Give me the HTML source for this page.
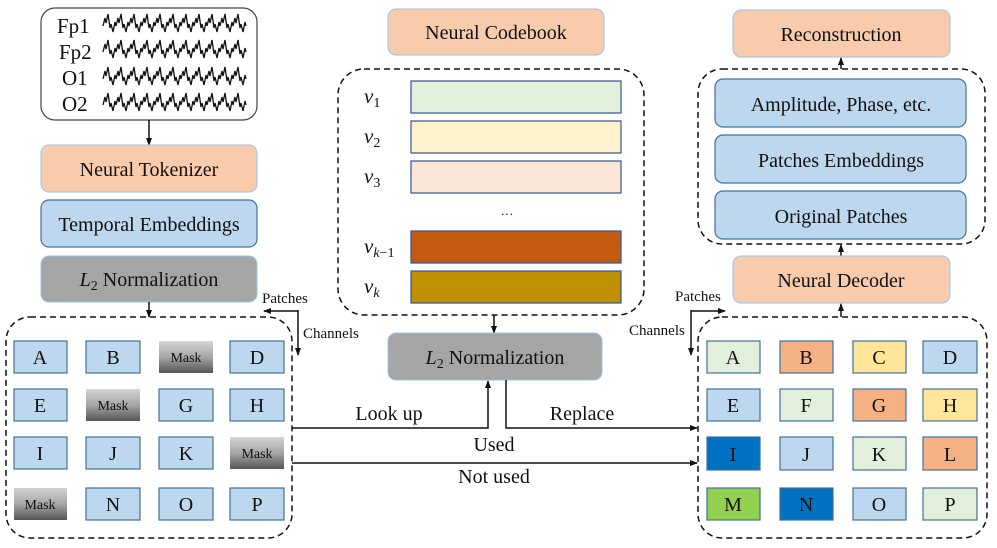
<!DOCTYPE html>
<html><head><meta charset="utf-8"><style>
html,body{margin:0;padding:0;background:#fff;}
svg{display:block;}
text{font-family:"Liberation Serif",serif;fill:#111;}
</style></head><body>
<svg width="997" height="548" viewBox="0 0 997 548" xmlns="http://www.w3.org/2000/svg">
<defs>
<marker id="ah" markerWidth="8" markerHeight="8" refX="7" refY="4" orient="auto" markerUnits="userSpaceOnUse"><path d="M0,1 L8,4 L0,7 z" fill="#111"/></marker>
<linearGradient id="mg" x1="0" y1="0" x2="0" y2="1"><stop offset="0" stop-color="#d4d4d4"/><stop offset="0.5" stop-color="#a6a6a6"/><stop offset="1" stop-color="#555"/></linearGradient>
</defs>

<!-- EEG box -->
<rect x="41" y="8" width="216" height="112" rx="14" fill="#fff" stroke="#444" stroke-width="1.2"/>
<g font-size="21"><text x="57" y="33">Fp1</text><text x="59" y="59">Fp2</text><text x="62" y="85">O1</text><text x="62" y="111">O2</text></g>
<g fill="none" stroke="#111" stroke-width="1.3">
<path id="w1" d="M103,26 l2,-8 l1,5 l2,-9 l2,14 l1,-4 l2,8 l2,-10 l1,4 l2,-8 l1,5 l2,-9 l2,14 l1,-4 l2,8 l2,-10 l1,4 l2,-8 l1,5 l2,-9 l2,14 l1,-4 l2,8 l2,-10 l1,4 l2,-8 l1,5 l2,-9 l2,14 l1,-4 l2,8 l2,-10 l1,4 l2,-8 l1,5 l2,-9 l2,14 l1,-4 l2,8 l2,-10 l1,4 l2,-8 l1,5 l2,-9 l2,14 l1,-4 l2,8 l2,-10 l1,4 l2,-8 l1,5 l2,-9 l2,14 l1,-4 l2,8 l2,-10 l1,4 l2,-8 l1,5 l2,-9 l2,14 l1,-4 l2,8 l2,-10 l1,4 l2,-8 l1,5 l2,-9 l2,14 l1,-4 l2,8 l2,-10 l1,4 l2,-8 l1,5 l2,-9 l2,14 l1,-4 l2,8 l2,-10 l1,4 l2,-8 l1,5 l2,-9 l2,14 l1,-4 l2,8 l2,-10 l1,4"/>
<use href="#w1" y="26"/><use href="#w1" y="53"/><use href="#w1" y="79"/>
</g>
<line x1="149" y1="120" x2="149" y2="145" stroke="#111" stroke-width="1.5" marker-end="url(#ah)"/>

<rect x="41" y="145" width="216" height="47" rx="8" fill="#f8cbad" stroke="#9dc3e6" stroke-width="1"/>
<text x="149" y="176" font-size="20" text-anchor="middle">Neural Tokenizer</text>
<rect x="41" y="200" width="216" height="47" rx="8" fill="#bdd7ee" stroke="#41719c" stroke-width="1.2"/>
<text x="149" y="231" font-size="20" text-anchor="middle">Temporal Embeddings</text>
<rect x="41" y="256" width="216" height="46" rx="8" fill="#a5a5a5" stroke="#9dc3e6" stroke-width="1"/>
<text x="149" y="286" font-size="20" text-anchor="middle"><tspan font-style="italic">L</tspan><tspan font-size="14" dy="4">2</tspan><tspan dy="-4"> Normalization</tspan></text>
<line x1="149" y1="302" x2="149" y2="317" stroke="#111" stroke-width="1.5" marker-end="url(#ah)"/>

<!-- Left patches/channels -->
<text x="262" y="303" font-size="15">Patches</text>
<text x="303" y="338" font-size="15">Channels</text>
<line x1="298" y1="311" x2="264" y2="311" stroke="#111" stroke-width="1.5" marker-end="url(#ah)"/>
<line x1="298" y1="310" x2="298" y2="355" stroke="#111" stroke-width="1.5" marker-end="url(#ah)"/>

<!-- Left dashed box -->
<rect x="6" y="317" width="286" height="221" rx="24" fill="none" stroke="#111" stroke-width="1.5" stroke-dasharray="6,4"/>
<g stroke="#41719c" stroke-width="1.2" fill="#bdd7ee">
<rect x="14" y="341" width="53" height="32"/><rect x="86" y="341" width="54" height="32"/><rect x="159" y="341" width="54" height="32" fill="url(#mg)" stroke="none"/><rect x="230" y="341" width="54" height="32"/>
<rect x="14" y="389" width="53" height="32"/><rect x="86" y="389" width="54" height="32" fill="url(#mg)" stroke="none"/><rect x="159" y="389" width="54" height="32"/><rect x="230" y="389" width="54" height="32"/>
<rect x="14" y="437" width="53" height="32"/><rect x="86" y="437" width="54" height="32"/><rect x="159" y="437" width="54" height="32"/><rect x="230" y="437" width="54" height="32" fill="url(#mg)" stroke="none"/>
<rect x="14" y="488" width="53" height="32" fill="url(#mg)" stroke="none"/><rect x="86" y="488" width="54" height="32"/><rect x="159" y="488" width="54" height="32"/><rect x="230" y="488" width="54" height="32"/>
</g>
<g font-size="20" text-anchor="middle">
<text x="40" y="364">A</text><text x="113" y="364">B</text><text x="186" y="362" font-size="14">Mask</text><text x="257" y="364">D</text>
<text x="40" y="412">E</text><text x="113" y="410" font-size="14">Mask</text><text x="186" y="412">G</text><text x="257" y="412">H</text>
<text x="40" y="460">I</text><text x="113" y="460">J</text><text x="186" y="460">K</text><text x="257" y="458" font-size="14">Mask</text>
<text x="40" y="509" font-size="14">Mask</text><text x="113" y="511">N</text><text x="186" y="511">O</text><text x="257" y="511">P</text>
</g>

<!-- Codebook -->
<rect x="388" y="9" width="216" height="46" rx="8" fill="#f8cbad" stroke="#9dc3e6" stroke-width="1"/>
<text x="496" y="39" font-size="20" text-anchor="middle">Neural Codebook</text>
<rect x="338" y="69" width="306" height="246" rx="26" fill="none" stroke="#111" stroke-width="1.5" stroke-dasharray="6,4"/>
<g stroke="#2f5597" stroke-width="1.2">
<rect x="411" y="81" width="210" height="32" fill="#e2efda"/>
<rect x="411" y="121" width="210" height="32" fill="#fff2cc"/>
<rect x="411" y="161" width="210" height="32" fill="#fbe5d6"/>
<rect x="411" y="231" width="210" height="32" fill="#c55a11"/>
<rect x="411" y="271" width="210" height="32" fill="#bf9000"/>
</g>
<g font-size="21" font-style="italic">
<text x="364" y="103">v<tspan font-size="14" dy="4" font-style="normal">1</tspan></text>
<text x="364" y="143">v<tspan font-size="14" dy="4" font-style="normal">2</tspan></text>
<text x="364" y="183">v<tspan font-size="14" dy="4" font-style="normal">3</tspan></text>
<text x="364" y="253">v<tspan font-size="14" dy="4">k</tspan><tspan font-size="14" font-style="normal">−1</tspan></text>
<text x="364" y="293">v<tspan font-size="14" dy="4">k</tspan></text>
</g>
<text x="507" y="215" font-size="13" text-anchor="middle">…</text>
<line x1="494" y1="315" x2="494" y2="333" stroke="#111" stroke-width="1.5" marker-end="url(#ah)"/>

<rect x="388" y="333" width="214" height="47" rx="8" fill="#a5a5a5" stroke="#9dc3e6" stroke-width="1"/>
<text x="495" y="364" font-size="20" text-anchor="middle"><tspan font-style="italic">L</tspan><tspan font-size="14" dy="4">2</tspan><tspan dy="-4"> Normalization</tspan></text>

<!-- connectors -->
<polyline points="292,428 488,428 488,381" fill="none" stroke="#111" stroke-width="1.5" marker-end="url(#ah)"/>
<polyline points="506,380 506,428 697,428" fill="none" stroke="#111" stroke-width="1.5" marker-end="url(#ah)"/>
<line x1="292" y1="463" x2="697" y2="463" stroke="#111" stroke-width="1.5" marker-end="url(#ah)"/>
<g font-size="20" text-anchor="middle">
<text x="389" y="420">Look up</text><text x="582" y="420">Replace</text>
<text x="494" y="451">Used</text><text x="494" y="483">Not used</text>
</g>

<!-- Right top -->
<rect x="733" y="10" width="217" height="47" rx="8" fill="#f8cbad" stroke="#9dc3e6" stroke-width="1"/>
<text x="841" y="41" font-size="20" text-anchor="middle">Reconstruction</text>
<line x1="841" y1="69" x2="841" y2="58" stroke="#111" stroke-width="1.5" marker-end="url(#ah)"/>
<rect x="698" y="69" width="287" height="175" rx="24" fill="none" stroke="#111" stroke-width="1.5" stroke-dasharray="6,4"/>
<g fill="#bdd7ee" stroke="#41719c" stroke-width="1.2">
<rect x="715" y="79" width="251" height="48" rx="8"/>
<rect x="715" y="135" width="251" height="48" rx="8"/>
<rect x="715" y="191" width="251" height="48" rx="8"/>
</g>
<g font-size="20" text-anchor="middle">
<text x="841" y="111">Amplitude, Phase, etc.</text>
<text x="841" y="167">Patches Embeddings</text>
<text x="841" y="223">Original Patches</text>
</g>
<line x1="841" y1="256" x2="841" y2="245" stroke="#111" stroke-width="1.5" marker-end="url(#ah)"/>
<rect x="733" y="256" width="217" height="47" rx="8" fill="#f8cbad" stroke="#9dc3e6" stroke-width="1"/>
<text x="841" y="287" font-size="20" text-anchor="middle">Neural Decoder</text>
<line x1="841" y1="317" x2="841" y2="304" stroke="#111" stroke-width="1.5" marker-end="url(#ah)"/>

<text x="675" y="301" font-size="15">Patches</text>
<text x="629" y="335" font-size="15">Channels</text>
<line x1="691" y1="311" x2="725" y2="311" stroke="#111" stroke-width="1.5" marker-end="url(#ah)"/>
<line x1="691" y1="310" x2="691" y2="355" stroke="#111" stroke-width="1.5" marker-end="url(#ah)"/>

<rect x="698" y="317" width="289" height="221" rx="24" fill="none" stroke="#111" stroke-width="1.5" stroke-dasharray="6,4"/>
<g stroke="#41719c" stroke-width="1.2">
<rect x="707" y="341" width="53" height="32" fill="#e2efda"/><rect x="780" y="341" width="53" height="32" fill="#f4b183"/><rect x="853" y="341" width="53" height="32" fill="#ffe699"/><rect x="923" y="341" width="54" height="32" fill="#bdd7ee"/>
<rect x="707" y="389" width="53" height="32" fill="#bdd7ee"/><rect x="780" y="389" width="53" height="32" fill="#e2efda"/><rect x="853" y="389" width="53" height="32" fill="#f4b183"/><rect x="923" y="389" width="54" height="32" fill="#ffe699"/>
<rect x="707" y="437" width="53" height="33" fill="#0070c0"/><rect x="780" y="437" width="53" height="33" fill="#bdd7ee"/><rect x="853" y="437" width="53" height="33" fill="#e2efda"/><rect x="923" y="437" width="54" height="33" fill="#f4b183"/>
<rect x="707" y="488" width="53" height="32" fill="#92d050"/><rect x="780" y="488" width="53" height="32" fill="#0070c0"/><rect x="853" y="488" width="53" height="32" fill="#bdd7ee"/><rect x="923" y="488" width="54" height="32" fill="#e2efda"/>
</g>
<g font-size="20" text-anchor="middle">
<text x="733" y="364">A</text><text x="806" y="364">B</text><text x="879" y="364">C</text><text x="950" y="364">D</text>
<text x="733" y="412">E</text><text x="806" y="412">F</text><text x="879" y="412">G</text><text x="950" y="412">H</text>
<text x="733" y="461">I</text><text x="806" y="461">J</text><text x="879" y="461">K</text><text x="950" y="461">L</text>
<text x="733" y="511">M</text><text x="806" y="511">N</text><text x="879" y="511">O</text><text x="950" y="511">P</text>
</g>
</svg>
</body></html>
